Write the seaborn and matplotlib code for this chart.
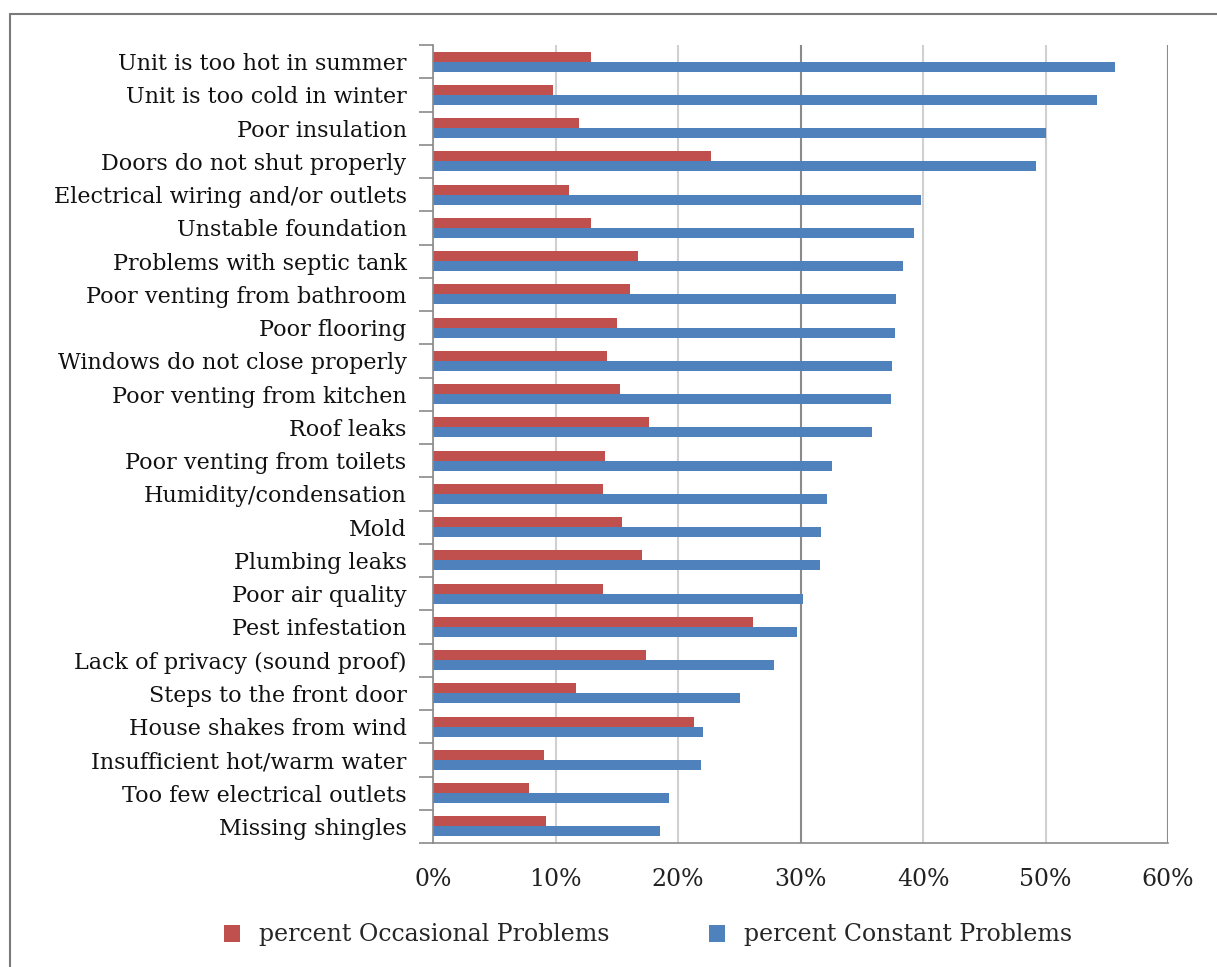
import matplotlib
matplotlib.use('Agg')
import matplotlib.pyplot as plt
import matplotlib.ticker as mticker
import numpy as np
import pandas as pd
import seaborn as sns

# Data (fractions)
problems = ['Unit is too hot in summer', 'Unit is too cold in winter', 'Poor insulation',
            'Doors do not shut properly', 'Electrical wiring and/or outlets',
            'Unstable foundation', 'Problems with septic tank', 'Poor venting from bathroom',
            'Poor flooring', 'Windows do not close properly', 'Poor venting from kitchen',
            'Roof leaks', 'Poor venting from toilets', 'Humidity/condensation', 'Mold',
            'Plumbing leaks', 'Poor air quality', 'Pest infestation',
            'Lack of privacy (sound proof)', 'Steps to the front door',
            'House shakes from wind', 'Insufficient hot/warm water',
            'Too few electrical outlets', 'Missing shingles']
occasional = [0.129, 0.098, 0.119, 0.227, 0.111, 0.129, 0.167, 0.161, 0.150, 0.142,
              0.153, 0.176, 0.140, 0.139, 0.154, 0.171, 0.139, 0.261, 0.174, 0.117,
              0.213, 0.091, 0.078, 0.092]
constant = [0.557, 0.542, 0.500, 0.492, 0.398, 0.393, 0.384, 0.378, 0.377, 0.375,
            0.374, 0.358, 0.326, 0.322, 0.317, 0.316, 0.302, 0.297, 0.278, 0.251,
            0.220, 0.219, 0.193, 0.185]
series = ['percent Occasional Problems', 'percent Constant Problems']
colours = ['#C0504D', '#4F81BD']

df = pd.DataFrame({'problem': problems * 2,
                   'value': occasional + constant,
                   'series': [series[0]] * len(problems) + [series[1]] * len(problems)})

sns.set_style('white')
plt.rcParams['font.family'] = ['DejaVu Serif']

fig = plt.figure(figsize=(12.17, 9.67), dpi=100)
ax = fig.add_axes([433 / 1217, 1 - 843 / 967, 735 / 1217, 798 / 967])

sns.barplot(data=df, x='value', y='problem', hue='series', hue_order=series,
            palette=colours, orient='h', width=0.6, linewidth=0, saturation=1,
            ax=ax)

ax.set_xlim(0, 0.6)
ax.set_ylim(len(problems) - 0.5, -0.5)
ax.set_xlabel('')
ax.set_ylabel('')

# x axis
ax.xaxis.set_major_locator(mticker.MultipleLocator(0.1))
ax.xaxis.set_major_formatter(mticker.PercentFormatter(1.0, decimals=0))
ax.tick_params(axis='x', length=8, width=1.2, color='#d0d0d0', pad=10,
               labelsize=17, labelcolor='#222222')
ax.grid(axis='x', color='#d0d0d0', linewidth=1.5)
ax.set_axisbelow(True)
for tick, gl, val in zip(ax.xaxis.get_major_ticks(), ax.xaxis.get_gridlines(),
                         ax.get_xticks()):
    if round(val * 10) in (3, 6):
        gl.set_color('#8a8a8a')
        tick.tick1line.set_color('#8a8a8a')

# y axis: labels centred, tick marks between categories
ax.yaxis.set_minor_locator(mticker.FixedLocator(np.arange(-0.5, len(problems), 1)))
ax.tick_params(axis='y', which='major', length=0, pad=19, labelsize=16,
               labelcolor='#111111')
ax.tick_params(axis='y', which='minor', length=10, width=1.2, color='#8a8a8a',
               left=True)

for side in ('top', 'right'):
    ax.spines[side].set_visible(False)
for side in ('left', 'bottom'):
    ax.spines[side].set_color('#8a8a8a')
    ax.spines[side].set_linewidth(1.2)

# legend
handles, labels = ax.get_legend_handles_labels()
ax.get_legend().remove()
fig.legend(handles, labels, loc='center', bbox_to_anchor=(648 / 1217, 1 - 935 / 967),
           ncol=2, frameon=False, handlelength=0.7, handleheight=0.7,
           handletextpad=0.8, columnspacing=4.2, fontsize=17)

# outer frame (top and left edges visible in the reference)
fig.add_artist(plt.Line2D([10 / 1217, 1], [1 - 14 / 967] * 2, color='#7a7a7a',
                          linewidth=1.5, transform=fig.transFigure))
fig.add_artist(plt.Line2D([10 / 1217] * 2, [0, 1 - 14 / 967], color='#7a7a7a',
                          linewidth=1.5, transform=fig.transFigure))

fig.savefig('out.png', dpi=100)
